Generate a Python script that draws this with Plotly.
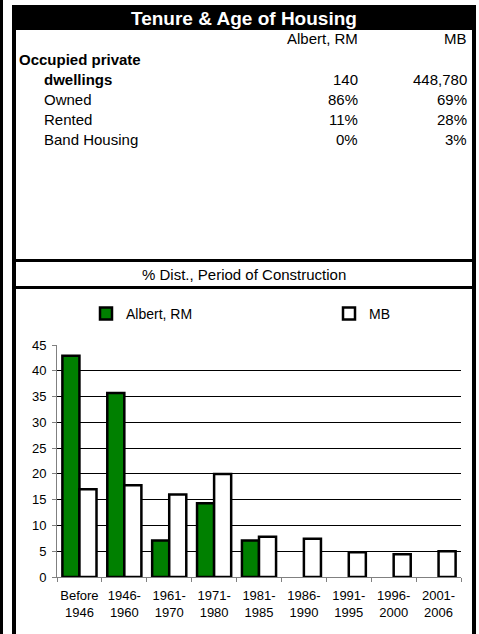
import plotly.graph_objects as go

# ---------------- data ----------------
periods = ["Before<br>1946", "1946-<br>1960", "1961-<br>1970", "1971-<br>1980", "1981-<br>1985",
           "1986-<br>1990", "1991-<br>1995", "1996-<br>2000", "2001-<br>2006"]
albert_rm = [42.9, 35.7, 7.1, 14.3, 7.1, 0, 0, 0, 0]
mb = [17.0, 17.8, 16.0, 20.0, 7.8, 7.4, 4.8, 4.4, 5.0]
y_ticks = [0, 5, 10, 15, 20, 25, 30, 35, 40, 45]

series_names = ["Albert, RM", "MB"]
row_labels = ["dwellings", "Owned", "Rented", "Band Housing"]
albert_table = ["140", "86%", "11%", "0%"]
mb_table = ["448,780", "69%", "28%", "3%"]

title_text = "Tenure & Age of Housing"
group_label = "Occupied private"
subtitle_text = "% Dist., Period of Construction"

# ---------------- layout helpers ----------------
W, H = 479, 634
L, R, T, B = 57, 461, 345, 577
PW, PH = R - L, B - T
FONT = "Arial, Liberation Sans, sans-serif"


def px(x):
    return (x - L) / PW


def py(y):
    return (B - y) / PH


def outline(vals):
    return [2.5 if v > 0 else 0 for v in vals]


fig = go.Figure()
fig.add_trace(go.Bar(x=periods, y=albert_rm, name=series_names[0], legend="legend",
                     marker=dict(color="#008000", line=dict(color="black", width=outline(albert_rm)))))
fig.add_trace(go.Bar(x=periods, y=mb, name=series_names[1], legend="legend2",
                     marker=dict(color="white", line=dict(color="black", width=outline(mb)))))

shapes = []


def rect(x0, y0, x1, y1, color="black"):
    shapes.append(dict(type="rect", xref="paper", yref="paper",
                       x0=px(x0), x1=px(x1), y0=py(y0), y1=py(y1),
                       fillcolor=color, line=dict(width=0), layer="above"))


rect(0, 0, 3, H)          # neighbouring panel edge
rect(12, 5, 16, H)        # left border
rect(472, 5, 476, H)      # right border
rect(12, 5, 476, 30)      # title bar
rect(12, 259, 476, 262)   # separator
rect(12, 286, 476, 289)   # separator

ann = []


def text(x, y, s, anchor="left", size=15, bold=False, color="black"):
    ann.append(dict(xref="paper", yref="paper", x=px(x), y=py(y),
                    text=("<b>%s</b>" % s) if bold else s, showarrow=False,
                    xanchor=anchor, yanchor="middle",
                    font=dict(family=FONT, size=size, color=color)))


text(244, 18, title_text, anchor="center", size=19, bold=True, color="white")
text(360, 39, series_names[0], anchor="right")
text(469, 39, series_names[1], anchor="right")
text(17, 59, group_label, bold=True)
row_y = [79, 99, 119, 139]
for i, lab in enumerate(row_labels):
    text(42, row_y[i], lab, bold=(i == 0))
    text(360, row_y[i], albert_table[i], anchor="right")
    text(469, row_y[i], mb_table[i], anchor="right")
text(244, 274, subtitle_text, anchor="center", size=15)

leg_common = dict(orientation="h", yanchor="middle", xanchor="left", itemwidth=30,
                  font=dict(family=FONT, size=14), bgcolor="rgba(0,0,0,0)", borderwidth=0)

fig.update_layout(
    width=W, height=H, autosize=False,
    margin=dict(l=L, r=W - R, t=T, b=H - B, autoexpand=False),
    paper_bgcolor="white", plot_bgcolor="white",
    font=dict(family=FONT, size=13, color="black"),
    barmode="group", bargap=0.24, bargroupgap=0,
    showlegend=True,
    legend=dict(x=px(86), y=py(314), **leg_common),
    legend2=dict(x=px(329), y=py(314), **leg_common),
    shapes=shapes, annotations=ann,
    xaxis=dict(type="category", showline=True, linecolor="#808080", linewidth=1,
               ticks="outside", tickson="boundaries", ticklen=4, tickcolor="#808080",
               tickangle=0, ticklabelstandoff=6, tickfont=dict(family=FONT, size=13),
               showgrid=False, fixedrange=True),
    yaxis=dict(range=[0, 45], tickvals=y_ticks, showline=True, linecolor="#808080",
               linewidth=1, ticks="outside", ticklen=4, tickcolor="#808080",
               showgrid=True, gridcolor="black", gridwidth=1, zeroline=False,
               ticklabelstandoff=3, tickfont=dict(family=FONT, size=13), fixedrange=True),
)

fig.write_html("out.html", config={"displayModeBar": False},
               post_script="document.body.style.margin='0';document.body.style.padding='0';")
